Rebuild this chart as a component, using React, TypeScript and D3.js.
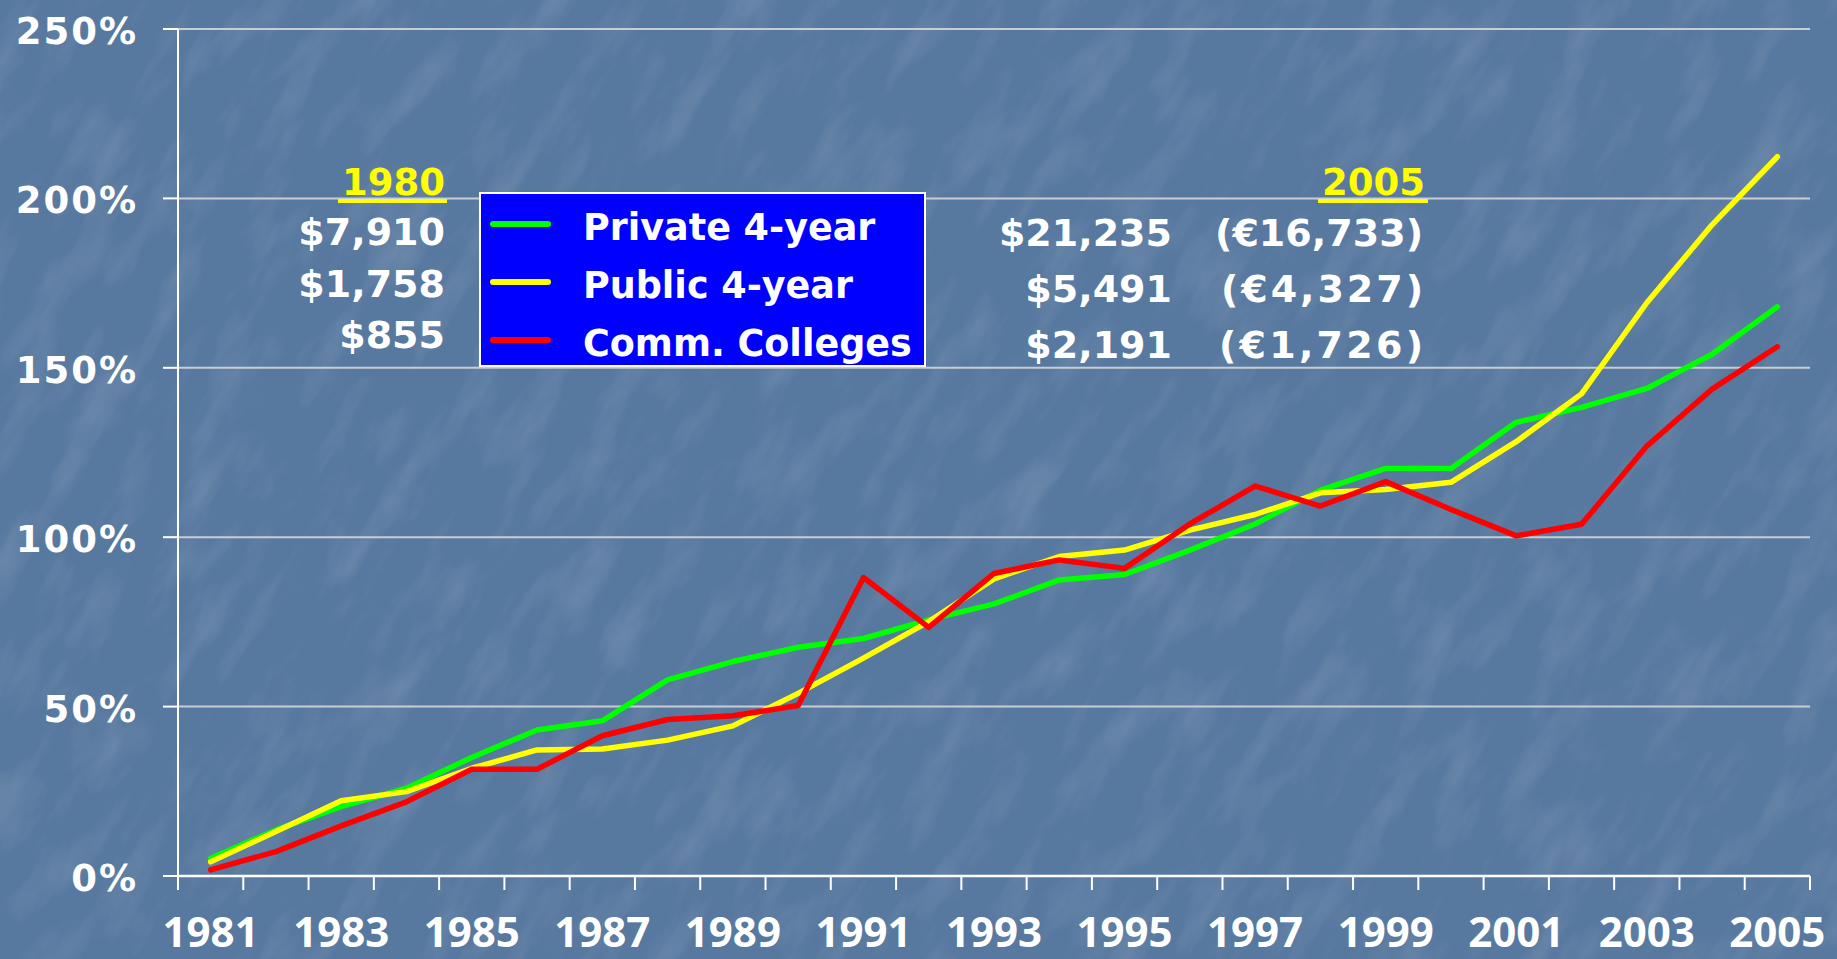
import React from "react";
import * as d3 from "d3";

const years = d3.range(1981, 2006).map(String);
const privateFour = [5.2, 13.6, 20.5, 25.9, 35.0, 43.1, 45.8, 57.9, 63.3, 67.5, 70.1, 75.6, 80.3, 87.4, 89.0, 96.2, 103.9, 113.9, 120.3, 120.3, 133.9, 138.3, 143.9, 154.0, 168.0];
const publicFour = [4.2, 13.1, 22.2, 24.9, 31.8, 37.2, 37.5, 40.1, 44.3, 53.9, 64.3, 75.1, 87.7, 94.3, 96.2, 102.1, 106.7, 113.1, 114.1, 116.2, 128.2, 142.3, 169.2, 192.2, 212.3];
const commColleges = [1.8, 7.2, 14.8, 21.9, 31.5, 31.5, 41.4, 46.2, 47.3, 50.3, 88.1, 73.4, 89.3, 93.3, 90.8, 103.9, 115.1, 109.2, 116.4, 108.2, 100.4, 103.8, 126.9, 143.7, 156.2];
const yTicks = [0, 50, 100, 150, 200, 250];
const seriesNames = ["Private 4-year", "Public 4-year", "Comm. Colleges"];
const seriesColors = ["#00ff00", "#ffff00", "#ff0000"];
const left1980 = ["$7,910", "$1,758", "$855"];
const right2005Usd = ["$21,235", "$5,491", "$2,191"];
const right2005Eur = ["(€16,733)", "(€4,327)", "(€1,726)"];

const W = 1837;
const H = 959;
const X0 = 178;
const X1 = 1810;
const Y0 = 876;
const Y1 = 29;

export default function App() {
  const x = d3.scaleBand<string>().domain(years).range([X0, X1]).paddingInner(0).paddingOuter(0);
  const y = d3.scaleLinear().domain([0, 250]).range([Y0, Y1]);
  const cx = (yr: string) => (x(yr) as number) + x.bandwidth() / 2;
  const line = d3
    .line<number>()
    .x((_, i) => cx(years[i]))
    .y((d) => y(d));
  const allSeries = [privateFour, publicFour, commColleges];
  const bold = "'DejaVu Sans', Verdana, sans-serif";
  const boundaries = d3.range(years.length + 1).map((i) => X0 + i * x.step());
  const eurStart = [1215, 1221, 1219];
  const rowY = [246, 302, 358];

  return (
    <svg
      width={W}
      height={H}
      style={{ position: "absolute", left: 0, top: 0, display: "block" }}
      xmlns="http://www.w3.org/2000/svg"
    >
      <defs>
        <filter id="tex" x="0" y="0" width="100%" height="100%">
          <feTurbulence type="fractalNoise" baseFrequency="0.01 0.03" numOctaves={4} seed={7} result="n" />
          <feColorMatrix
            in="n"
            type="matrix"
            values="0 0 0 0 1  0 0 0 0 1  0 0 0 0 1  0 0 0 1.8 -0.8"
          />
        </filter>
      </defs>
      <rect x={0} y={0} width={W} height={H} fill="#57789f" />
      <g transform={`rotate(-58 ${W / 2} ${H / 2})`} opacity={0.13}>
        <rect x={-600} y={-800} width={W + 1200} height={H + 1600} filter="url(#tex)" />
      </g>

      {/* gridlines */}
      {yTicks.filter((t) => t > 0).map((t) => (
        <line key={t} x1={X0} x2={X1} y1={y(t)} y2={y(t)} stroke="#c9cdd3" strokeWidth={2} />
      ))}
      {/* y ticks */}
      {yTicks.map((t) => (
        <line key={"yt" + t} x1={X0 - 15} x2={X0} y1={y(t)} y2={y(t)} stroke="#ffffff" strokeWidth={2} />
      ))}
      {/* axes */}
      <line x1={X0} x2={X0} y1={Y1} y2={Y0 + 14} stroke="#ffffff" strokeWidth={2} />
      <line x1={X0} x2={X1} y1={Y0} y2={Y0} stroke="#ffffff" strokeWidth={2.5} />
      {boundaries.map((bx, i) => (
        <line key={"xt" + i} x1={bx} x2={bx} y1={Y0} y2={Y0 + 14} stroke="#ffffff" strokeWidth={2} />
      ))}

      {/* y labels */}
      {yTicks.map((t) => (
        <text
          key={"yl" + t}
          x={138}
          y={y(t) + 15}
          textAnchor="end"
          fill="#ffffff"
          fontFamily={bold}
          fontWeight={700}
          fontSize={37}
          letterSpacing={2}
        >
          {t + "%"}
        </text>
      ))}
      {/* x labels */}
      {years.filter((_, i) => i % 2 === 0).map((yr) => (
        <text
          key={"xl" + yr}
          x={cx(yr)}
          y={947}
          textAnchor="middle"
          fill="#ffffff"
          fontFamily="'Open Sans', sans-serif"
          fontWeight={700}
          fontSize={42}
        >
          {yr}
        </text>
      ))}

      {/* series */}
      {allSeries.map((s, k) => (
        <path
          key={"s" + k}
          d={line(s) || ""}
          fill="none"
          stroke={seriesColors[k]}
          strokeWidth={5.5}
          strokeLinejoin="round"
          strokeLinecap="round"
        />
      ))}

      {/* left annotations */}
      <text x={445} y={195} textAnchor="end" fill="#ffff00" fontFamily={bold} fontWeight={700} fontSize={37}>
        1980
      </text>
      <rect x={338} y={199} width={109} height={4} fill="#ffff00" />
      {left1980.map((t, i) => (
        <text key={"l" + i} x={445} y={[245, 297, 348][i]} textAnchor="end" fill="#ffffff" fontFamily={bold} fontWeight={700} fontSize={38}>
          {t}
        </text>
      ))}

      {/* right annotations */}
      <text x={1425} y={195} textAnchor="end" fill="#ffff00" fontFamily={bold} fontWeight={700} fontSize={37}>
        2005
      </text>
      <rect x={1318} y={199} width={110} height={4} fill="#ffff00" />
      {right2005Usd.map((t, i) => (
        <text key={"ru" + i} x={1172} y={rowY[i]} textAnchor="end" fill="#ffffff" fontFamily={bold} fontWeight={700} fontSize={38}>
          {t}
        </text>
      ))}
      {right2005Eur.map((t, i) => (
        <text
          key={"re" + i}
          x={eurStart[i]}
          y={rowY[i]}
          fill="#ffffff"
          fontFamily={bold}
          fontWeight={700}
          fontSize={38}
          textLength={1423 - eurStart[i]}
          lengthAdjust="spacing"
        >
          {t}
        </text>
      ))}

      {/* legend */}
      <rect x={480} y={193} width={445} height={173} fill="#0000ff" stroke="#ffffff" strokeWidth={2} />
      {seriesNames.map((n, i) => {
        const ly = 224 + i * 58;
        return (
          <g key={"lg" + i}>
            <line x1={493} x2={548} y1={ly} y2={ly} stroke={seriesColors[i]} strokeWidth={6} strokeLinecap="round" />
            <text x={583} y={ly + 16} fill="#ffffff" fontFamily={bold} fontWeight={700} fontSize={36.5}>
              {n}
            </text>
          </g>
        );
      })}
    </svg>
  );
}
